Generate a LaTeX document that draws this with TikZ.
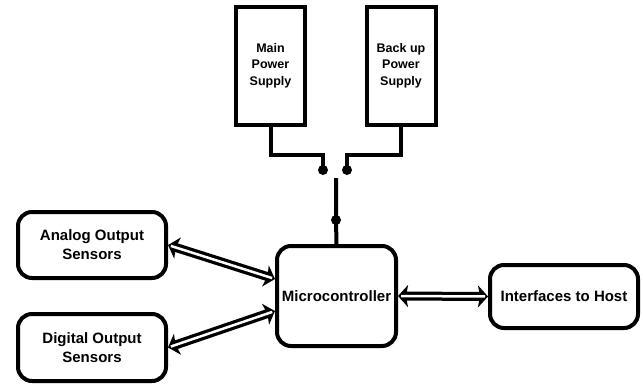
\documentclass[tikz,border=0pt]{standalone}
\usepackage{fontspec}
\setmainfont{Liberation Sans}
\usetikzlibrary{arrows.meta,calc}
\begin{document}
\begin{tikzpicture}[x=1pt,y=-1pt,
  rbox/.style={draw,line width=4pt,rounded corners=14pt,align=center,inner sep=0pt,
    font=\fontsize{15}{19}\selectfont\bfseries},
  pbox/.style={draw,line width=4pt,align=center,inner sep=0pt,minimum width=69pt,minimum height=118pt,
    font=\fontsize{12.5}{16.5}\selectfont\bfseries},
  wire/.style={line width=4pt},
  tip/.tip={Stealth[length=10pt,width=22pt,inset=2pt]},
  dblout/.style={line width=9pt,{tip}-{tip}},
  dblin/.style={line width=2.5pt,white,shorten <=3pt,shorten >=3pt},
  dot/.style={circle,fill,inner sep=0pt,minimum size=10pt}]
\useasboundingbox (0,0) rectangle (643,386);
\node[pbox] (main) at (270.5,66) {\mbox{}\\[-8pt]Main\\Power\\Supply};
\node[pbox] (backup) at (401,66) {\mbox{}\\[-8pt]Back up\\Power\\Supply};
\node[rbox,minimum width=148pt,minimum height=66pt] (analog) at (92,245) {Analog Output\\Sensors};
\node[rbox,minimum width=148pt,minimum height=67pt] (digital) at (92,347.5) {Digital Output\\Sensors};
\node[rbox,minimum width=119pt,minimum height=100pt] (micro) at (336.5,296) {Microcontroller};
\node[rbox,minimum width=148pt,minimum height=63pt] (host) at (564,296.5) {Interfaces to Host};
\node[dot] (d1) at (323,170) {};
\node[dot] (d2) at (347,170) {};
\coordinate (s) at (336,178);
\node[dot] (d3) at (336,220) {};
\draw[wire] (main.south) -- ++(0,28) -| (d1.center);
\draw[wire] (backup.south) -- ++(0,28) -| (d2.center);
\draw[wire] (s) -- (d3.center) -- (micro.north);
\draw[dblout] (analog.east) -- ([yshift=17pt]micro.west);
\draw[dblin] (analog.east) -- ([yshift=17pt]micro.west);
\draw[dblout] (digital.east) -- ([yshift=-15pt]micro.west);
\draw[dblin] (digital.east) -- ([yshift=-15pt]micro.west);
\draw[dblout] (micro.east) -- (host.west);
\draw[dblin] (micro.east) -- (host.west);
\end{tikzpicture}
\end{document}
